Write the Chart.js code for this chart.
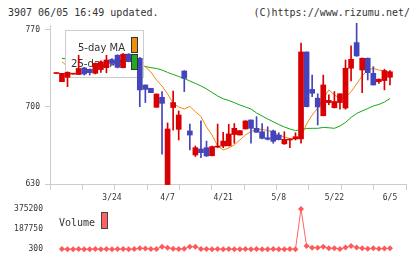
<!DOCTYPE html>
<html>
<head>
<meta charset="utf-8">
<script src="https://cdn.jsdelivr.net/npm/chart.js"></script>
<style>
  body { margin: 0; background: #fff; }
  #wrap { position: relative; width: 420px; height: 259px; overflow: hidden; }
  canvas { position: absolute; left: 0; }
  .hd { position: absolute; top: 7px; font: 10px "DejaVu Sans Mono", monospace; color: #333; line-height: 11px; white-space: pre; }
</style>
</head>
<body>
<div id="wrap">
  <div class="hd" style="left:8px">3907 06/05 16:49 updated.</div>
  <div class="hd" style="right:10px">(C)https://www.rizumu.net/</div>
  <canvas id="priceChart" width="420" height="259" style="top:0"></canvas>
  <canvas id="volChart" width="420" height="59" style="top:200px"></canvas>
</div>
<script>
// trading days shown on the chart
var dates = ['3/7','3/10','3/11','3/12','3/13','3/14','3/17','3/18','3/19','3/21',
  '3/24','3/25','3/26','3/27','3/28','3/31','4/1','4/2','4/3','4/4',
  '4/7','4/8','4/9','4/10','4/11','4/14','4/15','4/16','4/17','4/18',
  '4/21','4/22','4/23','4/24','4/25','4/28','4/30','5/1','5/2','5/7',
  '5/8','5/9','5/12','5/13','5/14','5/15','5/16','5/19','5/20','5/21',
  '5/22','5/23','5/26','5/27','5/28','5/29','5/30','6/2','6/3','6/4',
  '6/5'];
var tickDates = ['3/24','4/7','4/21','5/8','5/22','6/5'];

var openP = [730.4,723,727,729.8,729.5,735.5,734.3,730.6,734,735.7,
  743,747,735.7,748,745,744.3,720,717,699.7,708.8,
  629.5,699.5,679.7,732.7,678.2,656.4,661.8,663,655.7,663.5,
  664.5,664.7,675,674.5,680,688.2,680.6,677.5,672,678.2,
  674.5,666.5,670,670.9,671,750,716,708,692,704,
  699.4,704,699,735.2,758.5,733.6,744.3,730.6,723,724,
  727];
var closeP = [730.8,730.6,731.5,730.3,735,730,731.2,739.7,741,742.7,
  739.7,736,748,741.2,741,715.5,716,713,711.8,703.3,
  680,704,692.7,726,674.5,663,658.5,655.5,664,664.5,
  669,675.5,680.6,678.5,687.3,680.6,677,671.5,670.6,668.8,
  670.3,670.6,670.9,673,750,700.3,712.5,700,720,706,
  705,712,735.2,743.3,746.4,744.3,731.2,720,725.2,733,
  732];
var highP = [730.8,730.6,732,730.3,747,736,734.5,740,742,747,
  744,747.5,748.5,748.5,746,745,720,717,711.8,714,
  685.5,714.5,696.4,733,684.5,664.5,687.3,669,664.5,684.5,
  677,684.3,685,678.5,687.5,688.2,691.2,685,682,679,
  676.6,677.5,671,676.6,758,750,729,712,729,711,
  714,712,742.7,755.5,776,744.5,744.5,736.7,725.5,734.3,
  733];
var lowP = [730.4,723,718.5,729.8,729.5,729,729,730,731.5,731,
  738,735.5,735.5,741,740,700.3,704,713,699.7,657,
  629.5,679,670,714,661,655,654,655,655.5,663,
  663,664.5,667,674.5,680,667,677,671,670,667,
  670,666,663,670,667,700,709.4,683.6,692,702,
  699,698,698,723.6,746,713,724.5,720,721.5,715.5,
  720];

var ma5 = [null,741,737,734,731,730,731,732,733,735,
  738,740,741,741,742,740,736.4,731.8,724.5,719,
  711.8,703.4,700,698.2,700.5,695.7,691.4,681.8,674.5,664.5,
  661,662.7,665.5,670,674.5,677.7,679.5,679.7,678.6,677.3,
  674.5,672.7,671.4,671.4,672.7,684.5,692.7,699,707.7,715.5,
  711,707.7,708.6,713.9,720.9,728.2,733.6,735,733.6,732.7,
  731.4];
var ma25 = [null,744.1,743.8,743.3,742.8,742.2,741.7,741.2,740.8,740.3,
  739.8,739.3,738.8,738.3,737.8,737.3,736.8,735.7,735,733.6,
  731.4,729.5,727.7,725.9,723.6,721.4,719.1,716.4,713.2,710,
  707.5,705.9,703.9,701.8,700,698.2,694.5,691.8,689.1,686.6,
  684.1,681.8,680,678.5,679.5,680.5,680.6,680.6,681.4,681.1,
  680.6,682.7,685.9,690.5,694.1,696.4,698.6,700.9,702.3,704.5,
  707.7];

var volume = [null,2100,1500,1800,2600,1200,1900,2300,1400,2800,
  1700,2000,3100,1600,2400,9500,8000,3500,4000,25000,
  15000,5000,3500,6000,25000,24000,4000,2500,1800,2200,
  1500,2600,1900,1300,2400,1700,2000,300,1600,2300,
  1800,1400,2100,1900,375200,31000,15000,15500,24000,10000,
  9000,4000,16000,30000,18000,9500,6000,9000,5000,7000,
  9000];

var priceTicks = [630, 700, 770];
var volTicks = [300, 187750, 375200];
var maLabels = ['5-day MA', '25-day MA'];
var volLabel = 'Volume';

var xMin = -1.15, xMax = 62.88;
var upColor = '#d80000', downColor = '#4444bb';
var monoFont = 'DejaVu Sans Mono';

var candleColors = closeP.map(function (c, i) { return c >= openP[i] ? upColor : downColor; });
var bodies = dates.map(function (d, i) {
  return { x: i, y: [Math.min(openP[i], closeP[i]), Math.max(openP[i], closeP[i])] };
});
var wicks = dates.map(function (d, i) { return { x: i, y: [lowP[i], highP[i]] }; });
var ma5Pts = ma5.map(function (v, i) { return { x: i, y: v }; });
var ma25Pts = ma25.map(function (v, i) { return { x: i, y: v }; });
var volPts = volume.map(function (v, i) { return { x: i, y: v }; });

// bottom ticks: 12 evenly spaced marks plus the date labels
var labelAt = {};
tickDates.forEach(function (d) { labelAt[dates.indexOf(d)] = d; });
var gridVals = [];
for (var k = 0; k <= 11; k++) gridVals.push(k === 11 ? xMax : xMin + k * (xMax - xMin) / 11);
var xTickVals = gridVals.concat(Object.keys(labelAt).map(Number)).sort(function (a, b) { return a - b; });

var maLegend = {
  id: 'maLegend',
  beforeDatasetDraw: function (chart, args) {
    if (args.index !== 1) return;
    var c = chart.ctx;
    c.save();
    c.fillStyle = '#ffffff';
    c.fillRect(65, 30, 78, 47);
    c.strokeStyle = '#cccccc';
    c.lineWidth = 1;
    c.strokeRect(65.5, 30.5, 78, 47);
    c.fillStyle = '#333333';
    c.font = '11px "DejaVu Sans"';
    c.textAlign = 'right';
    c.textBaseline = 'alphabetic';
    c.fillText(maLabels[0], 125, 50.5, 47);
    c.fillText(maLabels[1], 125, 67, 54);
    c.restore();
  },
  afterDatasetsDraw: function (chart) {
    var c = chart.ctx;
    c.save();
    c.lineWidth = 1;
    c.strokeStyle = '#333333';
    c.fillStyle = '#f08c10';
    c.fillRect(131.5, 37.5, 6, 15);
    c.strokeRect(131.5, 37.5, 6, 15);
    c.fillStyle = '#22aa22';
    c.fillRect(131.5, 54.5, 6, 15);
    c.strokeRect(131.5, 54.5, 6, 15);
    c.restore();
  }
};

new Chart(document.getElementById('priceChart'), {
  type: 'bar',
  data: {
    datasets: [
      { data: bodies, backgroundColor: candleColors, barThickness: 5, minBarLength: 1, grouped: false, order: 1, clip: false },
      { data: wicks, backgroundColor: candleColors, barThickness: 1, grouped: false, order: 2, clip: false },
      { type: 'line', data: ma5Pts, borderColor: '#f08c10', borderWidth: 1, pointRadius: 0, tension: 0, order: 3 },
      { type: 'line', data: ma25Pts, borderColor: '#11aa11', borderWidth: 1, pointRadius: 0, tension: 0, order: 4 }
    ]
  },
  options: {
    responsive: false,
    animation: false,
    layout: { autoPadding: false, padding: { left: 0, right: 14, top: 25, bottom: 57 } },
    scales: {
      x: {
        type: 'linear', min: xMin, max: xMax, offset: false,
        grid: {
          drawOnChartArea: false, tickLength: 6, offset: false,
          color: function (ctx) {
            return ctx.tick && labelAt[ctx.tick.value] !== undefined ? 'rgba(0,0,0,0)' : '#cccccc';
          }
        },
        border: { color: '#cccccc' },
        ticks: {
          autoSkip: false, maxRotation: 0, padding: 3, color: '#333333',
          font: { family: monoFont, size: 8 },
          callback: function (v) { return labelAt[v] !== undefined ? labelAt[v] : ''; }
        },
        afterBuildTicks: function (s) { s.ticks = xTickVals.map(function (v) { return { value: v }; }); },
        afterFit: function (s) { s.height = 18; }
      },
      y: {
        type: 'linear', min: 630, max: 774.5,
        grid: { drawOnChartArea: false, tickLength: 5, color: '#cccccc' },
        border: { color: '#cccccc' },
        ticks: { padding: 5, color: '#333333', font: { family: monoFont, size: 8 } },
        afterBuildTicks: function (s) { s.ticks = priceTicks.map(function (v) { return { value: v }; }); },
        afterFit: function (s) { s.width = 50; }
      }
    },
    plugins: { legend: { display: false }, tooltip: { enabled: false } }
  },
  plugins: [maLegend]
});

var volLegend = {
  id: 'volLegend',
  afterDraw: function (chart) {
    var c = chart.ctx;
    c.save();
    c.fillStyle = '#333333';
    c.font = '10px "DejaVu Sans Mono"';
    c.textBaseline = 'alphabetic';
    c.fillText(volLabel, 59, 26);
    c.fillStyle = '#ff6262';
    c.fillRect(101.5, 12.5, 6, 16);
    c.strokeStyle = '#444444';
    c.lineWidth = 1;
    c.strokeRect(101.5, 12.5, 6, 16);
    c.restore();
  }
};

new Chart(document.getElementById('volChart'), {
  type: 'line',
  data: {
    datasets: [{
      data: volPts, borderColor: '#ff6666', borderWidth: 1,
      pointStyle: 'rectRot', pointRadius: 3, pointBackgroundColor: '#ff5a5a', pointBorderWidth: 0,
      tension: 0, clip: false
    }]
  },
  options: {
    responsive: false,
    animation: false,
    layout: { autoPadding: false, padding: { left: 0, right: 14, top: 9, bottom: 9.7 } },
    scales: {
      x: { type: 'linear', min: xMin, max: xMax, display: false },
      y: {
        type: 'linear', min: 300, max: 375200,
        grid: { display: true, drawOnChartArea: false, drawTicks: true, tickLength: 7, color: 'rgba(0,0,0,0)' },
        border: { display: false },
        ticks: {
          padding: 0, color: '#333333', font: { family: monoFont, size: 8 },
          callback: function (v) { return String(v); }
        },
        afterBuildTicks: function (s) { s.ticks = volTicks.map(function (v) { return { value: v }; }); },
        afterFit: function (s) { s.width = 50; }
      }
    },
    plugins: { legend: { display: false }, tooltip: { enabled: false } }
  },
  plugins: [volLegend]
});
</script>
</body>
</html>
